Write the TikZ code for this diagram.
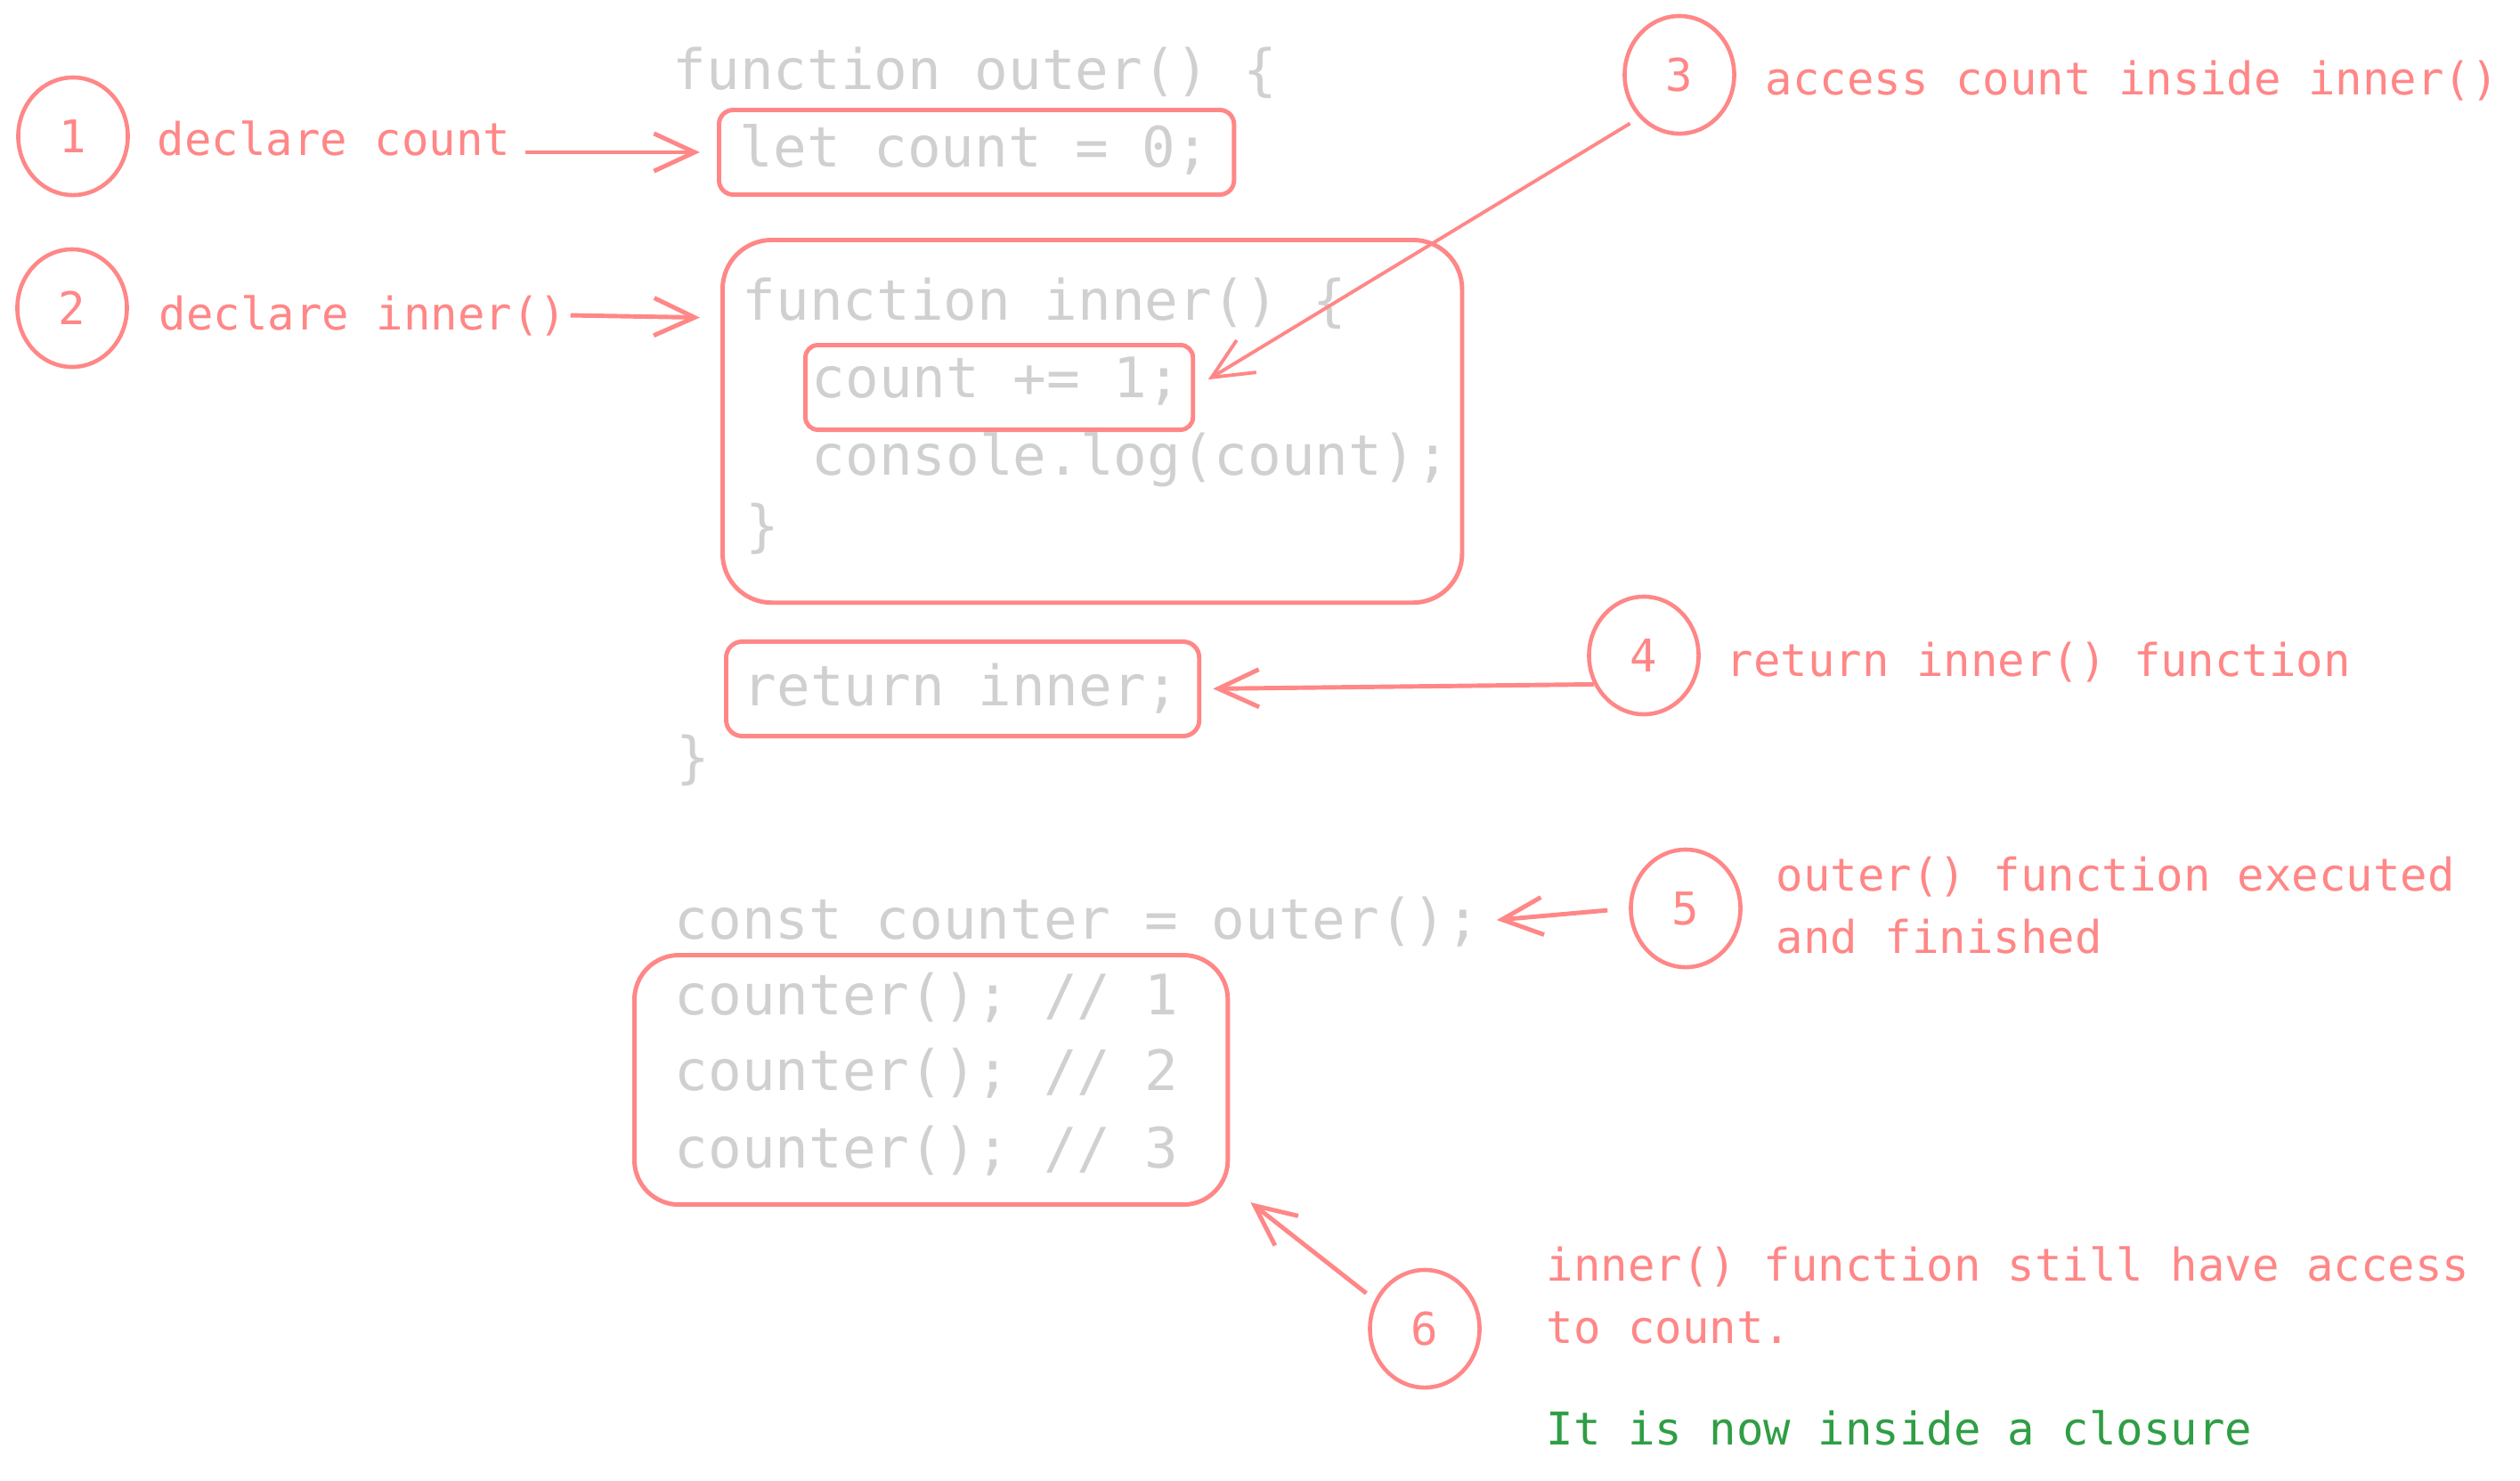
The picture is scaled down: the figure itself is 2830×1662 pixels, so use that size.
\documentclass[tikz,border=0pt]{standalone}
\usepackage{fontspec}
\setmainfont{DejaVu Sans Mono}
\usetikzlibrary{arrows.meta,shapes.geometric}
\definecolor{notered}{RGB}{255,135,135}
\definecolor{codegray}{RGB}{208,208,208}
\definecolor{notegreen}{RGB}{47,158,68}
\def\codesize{\fontsize{17.8pt}{21pt}\selectfont}
\def\notesize{\fontsize{14.4pt}{18pt}\selectfont}
\tikzset{
	code/.style={anchor=base west, inner sep=0pt, text=codegray, font=\codesize},
	note/.style={anchor=base west, inner sep=0pt, text=notered, font=\notesize},
	numcirc/.style={ellipse, draw=notered, line width=1.3pt, inner sep=0pt, minimum width=1.23cm, minimum height=1.32cm, text=notered, font=\notesize},
	box/.style={draw=notered, line width=1.4pt, anchor=north west, inner sep=0pt},
	pointer/.style={draw=notered, line width=1.4pt, -{Straight Barb[length=13pt,width=12pt]}}
}

\begin{document}
\begin{tikzpicture}[x=0.01cm, y=-0.01cm]
			%%%%% START %%%%%
			
			\fill[white] (0, 0) rectangle (2830, 1662);
			\useasboundingbox (0, 0) rectangle (2830, 1662);
			
			\node[box, minimum width=5.78cm, minimum height=0.95cm, rounded corners=0.16cm] (letbox) at (805, 121) {};
			\node[box, minimum width=8.30cm, minimum height=4.07cm, rounded corners=0.55cm] (innerbox) at (809, 267) {};
			\node[box, minimum width=4.35cm, minimum height=0.95cm, rounded corners=0.14cm] (countbox) at (902, 385) {};
			\node[box, minimum width=5.31cm, minimum height=1.06cm, rounded corners=0.18cm] (returnbox) at (813, 718) {};
			\node[box, minimum width=6.66cm, minimum height=2.80cm, rounded corners=0.50cm] (counterbox) at (710, 1070) {};
			
			\node[code] (outer) at (755, 100) {function outer() \{};
			\node[code] (letline) at (830, 187) {let count = 0;};
			\node[code] (innerfn) at (833, 359) {function inner() \{};
			\node[code] (countline) at (911, 446) {count += 1;};
			\node[code] (logline) at (911, 533) {console.log(count);};
			\node[code] (innerend) at (837, 612) {\}};
			\node[code] (retline) at (834, 792) {return inner;};
			\node[code] (outerend) at (759, 872) {\}};
			
			\node[code] (const) at (757, 1054) {const counter = outer();};
			\node[code] (call1) at (757, 1139) {counter(); // 1};
			\node[code] (call2) at (757, 1224) {counter(); // 2};
			\node[code] (call3) at (757, 1311) {counter(); // 3};
			
			\node[numcirc] (c1) at (82, 153) {1};
			\node[numcirc] (c2) at (81, 346) {2};
			\node[numcirc] (c3) at (1886, 84) {3};
			\node[numcirc] (c4) at (1846, 736) {4};
			\node[numcirc] (c5) at (1893, 1020) {5};
			\node[numcirc] (c6) at (1600, 1492) {6};
			
			\node[note] (lbl1) at (176, 174) {declare count};
			\node[note] (lbl2) at (178, 370) {declare inner()};
			\node[note] (lbl3) at (1982, 106) {access count inside inner()};
			\node[note] (lbl4) at (1938, 759) {return inner() function};
			\node[note] (lbl5a) at (1994, 1000) {outer() function executed};
			\node[note] (lbl5b) at (1994, 1070) {and finished};
			\node[note] (lbl6a) at (1736, 1438) {inner() function still have access};
			\node[note] (lbl6b) at (1736, 1508) {to count.};
			\node[note, text=notegreen] (closure) at (1736, 1622) {It is now inside a closure};
			
			\coordinate (tip6) at ([shift={(23,-5)}]counterbox.south east);
			
			\draw[pointer, shorten <=0.16cm, shorten >=0.19cm] (lbl1.east |- letbox.west) -- (letbox.west);
			\draw[pointer, shorten <=0.04cm, shorten >=0.23cm] (lbl2.east) -- ([yshift=-0.03cm]lbl2.east -| innerbox.west);
			\draw[pointer, line width=1.1pt, shorten <=0.12cm, shorten >=0.17cm] (c3.south west) -- (countbox.east);
			\draw[pointer, shorten >=0.13cm] (c4.210) -- (returnbox.east);
			\draw[pointer, shorten <=0.24cm, shorten >=0.18cm] (c5.west) -- (const.east);
			\draw[pointer, shorten <=0.12cm] (c6.150) -- (tip6);
			
			%%%%% END %%%%%
\end{tikzpicture}
\end{document}
